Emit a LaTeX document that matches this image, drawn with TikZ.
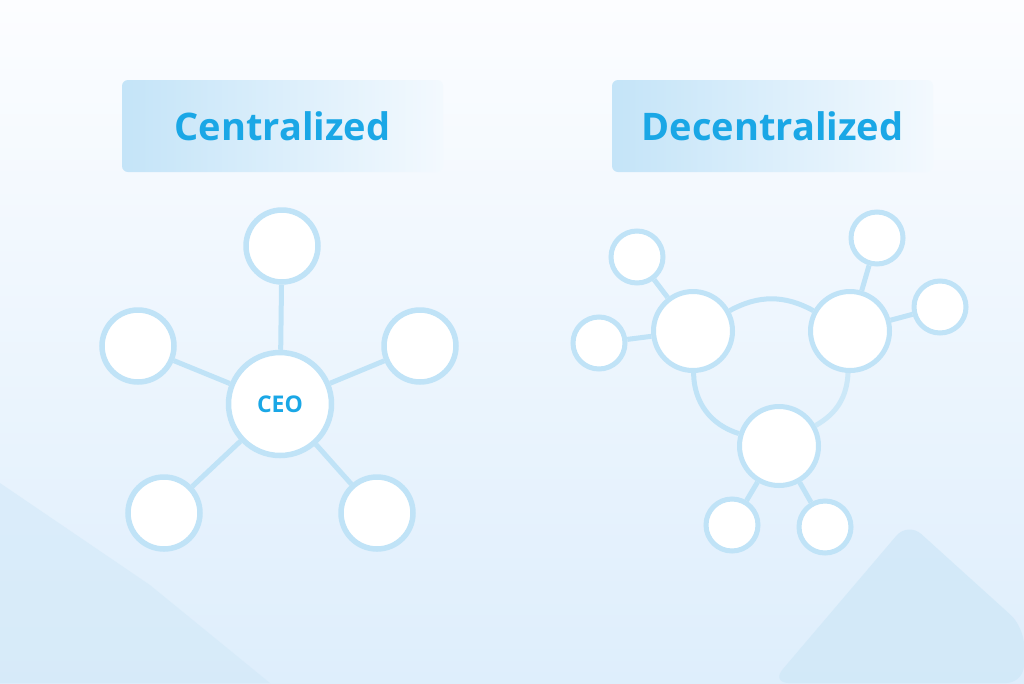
\documentclass[tikz,border=0pt]{standalone}
\usepackage{fontspec}
\newfontfamily\titlefont{Open Sans}
\definecolor{ringblue}{RGB}{192,227,247}
\definecolor{textblue}{RGB}{26,167,230}
\definecolor{bgtop}{RGB}{252,253,255}
\definecolor{bgbottom}{RGB}{222,238,252}
\definecolor{mount}{RGB}{208,232,248}
\definecolor{boxleft}{RGB}{196,228,248}
\definecolor{boxright}{RGB}{243,249,254}
\pgfdeclarelayer{bgfill}
\pgfdeclarelayer{edgelayer}
\pgfsetlayers{bgfill,edgelayer,main}
\tikzset{
  bignode/.style={circle, draw=ringblue, line width=5.5pt, fill=white, minimum size=103pt, inner sep=0pt},
  cnode/.style={circle, draw=ringblue, line width=5.5pt, fill=white, minimum size=72pt, inner sep=0pt},
  hubnode/.style={circle, draw=ringblue, line width=5pt, fill=white, minimum size=79pt, inner sep=0pt},
  leafnode/.style={circle, draw=ringblue, line width=5pt, fill=white, minimum size=52pt, inner sep=0pt},
  link/.style={draw=ringblue, line width=5pt},
  titlebox/.style={rounded corners=6pt, minimum width=321pt, minimum height=92pt, inner sep=0pt,
    left color=boxleft, right color=boxright, font=\titlefont\bfseries\fontsize{38}{40}\selectfont, text=textblue},
}
\begin{document}
\begin{tikzpicture}[x=1pt,y=-1pt]
\begin{pgfonlayer}{bgfill}
  \shade[top color=bgtop, bottom color=bgbottom] (0,0) rectangle (1024,683);
  \fill[mount, opacity=0.5] (0,483) -- (150,585) -- (270,683) -- (0,683) -- cycle;
  \fill[mount, opacity=0.8, rounded corners=18pt] (771,683) -- (908,522) -- (1024,627) -- (1024,683) -- cycle;
\end{pgfonlayer}
\useasboundingbox (0,0) rectangle (1024,683);

% titles
\node[titlebox] (t1) at (282.5,126) {Centralized};
\node[titlebox] (t2) at (772.5,126) {Decentralized};

% centralized
\node[bignode, font=\titlefont\bfseries\fontsize{23}{24}\selectfont, text=textblue] (ceo) at (280,404) {CEO};
\node[cnode] (c1) at (282,246) {};
\node[cnode] (c2) at (138,346) {};
\node[cnode] (c3) at (420,346) {};
\node[cnode] (c4) at (164,513) {};
\node[cnode] (c5) at (377,513) {};

% decentralized
\node[hubnode] (hA) at (693,331) {};
\node[hubnode] (hB) at (850,331) {};
\node[hubnode] (hC) at (779,446) {};
\node[leafnode] (s1) at (637,257) {};
\node[leafnode] (s2) at (599,343) {};
\node[leafnode] (s3) at (877,238) {};
\node[leafnode] (s4) at (940,307) {};
\node[leafnode] (s5) at (732,525) {};
\node[leafnode] (s6) at (825,527) {};

\begin{pgfonlayer}{edgelayer}
  \foreach \n in {c1,c2,c3,c4,c5} \draw[link] (ceo) -- (\n);
  \draw[link] (hA) -- (s1);
  \draw[link] (hA) -- (s2);
  \draw[link] (hB) -- (s3);
  \draw[link] (hB) -- (s4);
  \draw[link] (hC) -- (s5);
  \draw[link] (hC) -- (s6);
  \draw[link] (hA) to[bend left=29] (hB);
  \draw[link] (hA) to[bend right=36] (hC);
  \draw[link, opacity=0.7] (hB) to[bend left=29] (hC);
\end{pgfonlayer}
\end{tikzpicture}
\end{document}
